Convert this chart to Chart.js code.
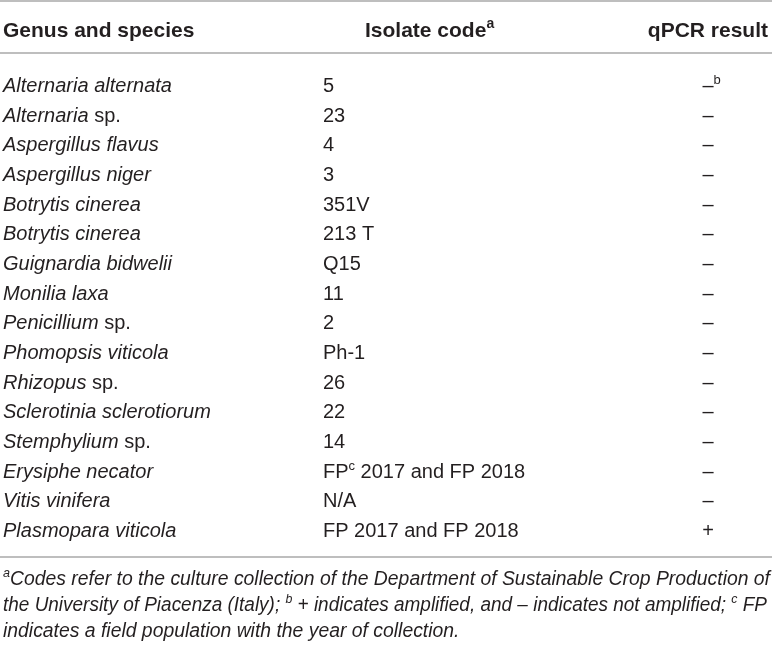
<!DOCTYPE html>
<html>
<head>
<meta charset="utf-8">
<script src="https://cdn.jsdelivr.net/npm/chart.js@4.4.1/dist/chart.umd.min.js"></script>
<style>
    html, body { margin: 0; padding: 0; background: #fff; }
    #wrap { width: 772px; height: 648px; position: relative; }
</style>
</head>
<body>
<div id="wrap"><canvas id="tableChart"></canvas></div>
<script>
// Table content
const headers = ['Genus and species', 'Isolate code^a', 'qPCR result'];
const species = [
    'Alternaria alternata', 'Alternaria sp.', 'Aspergillus flavus', 'Aspergillus niger',
    'Botrytis cinerea', 'Botrytis cinerea', 'Guignardia bidwelii', 'Monilia laxa',
    'Penicillium sp.', 'Phomopsis viticola', 'Rhizopus sp.', 'Sclerotinia sclerotiorum',
    'Stemphylium sp.', 'Erysiphe necator', 'Vitis vinifera', 'Plasmopara viticola'
];
const isolateCodes = [
    '5', '23', '4', '3', '351V', '213 T', 'Q15', '11', '2', 'Ph-1', '26', '22', '14',
    'FP^c 2017 and FP 2018', 'N/A', 'FP 2017 and FP 2018'
];
const qpcrResults = [
    '–^b', '–', '–', '–', '–', '–', '–', '–', '–', '–', '–', '–', '–', '–', '–', '+'
];
const notes = [
    '^aCodes refer to the culture collection of the Department of Sustainable Crop Production of',
    'the University of Piacenza (Italy); ^b + indicates amplified, and – indicates not amplified; ^c FP',
    'indicates a field population with the year of collection.'
];

const FONT = '"Liberation Sans", Arial, Helvetica, sans-serif';
const INK = '#231f20';
const RULE = '#a9a9a9';
const colX = [3, 323, 708];

// split "text^x more" into runs, odd pieces are superscripts
function parseRich(str, style) {
    return str.split(/\^([a-z])/)
        .map((t, k) => ({ t, sup: k % 2 === 1, style }))
        .filter(p => p.t.length);
}

function speciesRuns(name) {
    const m = name.match(/^(.*)( sp\.)$/);
    if (m) return [{ t: m[1], style: 'italic' }, { t: m[2], style: 'normal' }];
    return [{ t: name, style: 'italic' }];
}

function measureRich(ctx, runs, opt) {
    const font = p => `${p.style === 'italic' ? 'italic ' : ''}${opt.weight || 'normal'} ${p.sup ? opt.supSize : opt.size}px ${FONT}`;
    return runs.map(p => { ctx.font = font(p); return ctx.measureText(p.t).width; });
}

function drawRich(ctx, runs, x, y, opt) {
    const font = p => `${p.style === 'italic' ? 'italic ' : ''}${opt.weight || 'normal'} ${p.sup ? opt.supSize : opt.size}px ${FONT}`;
    const widths = measureRich(ctx, runs, opt);
    const total = widths.reduce((a, b) => a + b, 0);
    const main = widths.reduce((a, w, i) => a + (runs[i].sup ? 0 : w), 0);
    let cx = x;
    if (opt.align === 'right') cx = x - total;
    else if (opt.align === 'center') cx = x - main / 2;
    ctx.textBaseline = 'alphabetic';
    ctx.textAlign = 'left';
    runs.forEach((p, i) => {
        ctx.font = font(p);
        ctx.fillText(p.t, cx, y - (p.sup ? opt.supRise : 0));
        cx += widths[i];
    });
}

const tablePlugin = {
    id: 'tablePlugin',
    afterDatasetsDraw(chart) {
        const ctx = chart.ctx;
        const W = chart.width;
        ctx.save();

        // rules
        ctx.strokeStyle = RULE;
        ctx.lineWidth = 1.6;
        [1, 53, 557].forEach(y => {
            ctx.beginPath();
            ctx.moveTo(0, y);
            ctx.lineTo(W, y);
            ctx.stroke();
        });

        ctx.fillStyle = INK;

        // header row
        const hOpt = { size: 21, supSize: 14, supRise: 9, weight: 'bold' };
        drawRich(ctx, parseRich(headers[0], 'normal'), 3, 37, { ...hOpt, align: 'left' });
        drawRich(ctx, parseRich(headers[1], 'normal'), 365, 37, { ...hOpt, align: 'left' });
        drawRich(ctx, parseRich(headers[2], 'normal'), 768, 37, { ...hOpt, align: 'right' });

        // cells, positioned from the dataset points
        const cOpt = { size: 20, supSize: 13, supRise: 8 };
        chart.data.datasets.forEach((ds, di) => {
            const meta = chart.getDatasetMeta(di);
            meta.data.forEach((pt, i) => {
                let runs;
                if (di === 0) runs = speciesRuns(species[i]);
                else if (di === 1) runs = parseRich(isolateCodes[i], 'normal');
                else runs = parseRich(qpcrResults[i], 'normal');
                drawRich(ctx, runs, pt.x, pt.y, { ...cOpt, align: di === 2 ? 'center' : 'left' });
            });
        });

        // footnotes (condensed italic, first two lines justified)
        const fOpt = { size: 20, supSize: 13, supRise: 8, align: 'left' };
        const noteRuns = notes.map(n => parseRich(n, 'italic'));
        const widthOf = r => measureRich(ctx, r, fOpt).reduce((a, b) => a + b, 0);
        const k1 = 767 / widthOf(noteRuns[0]);
        const k2 = 764 / widthOf(noteRuns[1]);
        const scales = [k1, k2, k1];
        [585, 611, 637].forEach((y, i) => {
            ctx.save();
            ctx.translate(3, y);
            ctx.scale(scales[i], 1);
            drawRich(ctx, noteRuns[i], 0, 0, fOpt);
            ctx.restore();
        });

        ctx.restore();
    }
};

const columns = [species, isolateCodes, qpcrResults];

new Chart(document.getElementById('tableChart'), {
    type: 'scatter',
    data: {
        datasets: columns.map((col, ci) => ({
            label: headers[ci],
            data: col.map((v, i) => ({ x: colX[ci], y: i })),
            pointRadius: 0,
            pointHoverRadius: 0,
            showLine: false
        }))
    },
    options: {
        responsive: true,
        maintainAspectRatio: false,
        animation: false,
        events: [],
        layout: { padding: { left: 0, right: 0, top: 92, bottom: 111 } },
        scales: {
            x: { type: 'linear', min: 0, max: 772, display: false },
            y: { type: 'category', labels: species, offset: false, display: false }
        },
        plugins: {
            legend: { display: false },
            tooltip: { enabled: false }
        }
    },
    plugins: [tablePlugin]
});
</script>
</body>
</html>
